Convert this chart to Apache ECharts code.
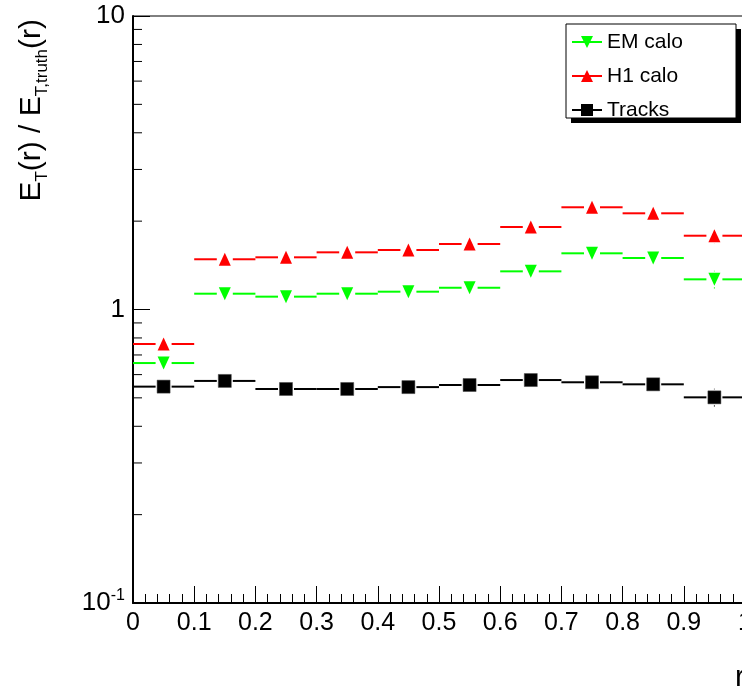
<!DOCTYPE html>
<html>
<head>
<meta charset="utf-8">
<script src="https://cdn.jsdelivr.net/npm/echarts@6/dist/echarts.min.js"></script>
<style>
  html, body { margin: 0; padding: 0; background: #fff; }
  #chart { width: 742px; height: 691px; }
</style>
</head>
<body>
<div id="chart"></div>
<script>
// Bins in r (centres), each 0.1 wide
const rCenters = [0.05, 0.15, 0.25, 0.35, 0.45, 0.55, 0.65, 0.75, 0.85, 0.95];
const binWidth = 0.1;

// E_T(r) / E_T,truth(r) per bin
const emCalo    = [0.657, 1.132, 1.106, 1.132, 1.150, 1.186, 1.349, 1.554, 1.498, 1.267];
const emCaloErr = [0.010, 0.010, 0.010, 0.010, 0.010, 0.012, 0.015, 0.020, 0.025, 0.088];
const h1Calo    = [0.763, 1.483, 1.506, 1.566, 1.595, 1.672, 1.910, 2.230, 2.127, 1.784];
const h1CaloErr = [0.012, 0.012, 0.012, 0.012, 0.012, 0.015, 0.020, 0.025, 0.030, 0.110];
const tracks    = [0.546, 0.571, 0.536, 0.536, 0.544, 0.553, 0.575, 0.565, 0.556, 0.502];
const tracksErr = [0.005, 0.005, 0.005, 0.005, 0.005, 0.005, 0.006, 0.006, 0.008, 0.035];

// Axis ticks
const yTickValues = [0.1, 1, 10];
const yTickText = ['{b|10}{s|-1}', '1', '10'];
const yMinorTicks = [0.2, 0.3, 0.4, 0.5, 0.6, 0.7, 0.8, 0.9, 2, 3, 4, 5, 6, 7, 8, 9];

const FONT = '"Liberation Sans", Arial, Helvetica, sans-serif';
const GREEN = '#00ff00', RED = '#ff0000', BLACK = '#000000';

function markerShape(kind, cx, cy, color) {
  if (kind === 'square') {
    return { type: 'rect', shape: { x: cx - 6.5, y: cy - 6.5, width: 13, height: 13 },
             style: { fill: color, stroke: '#444', lineWidth: 0.5 } };
  }
  const pts = kind === 'up'
    ? [[cx - 6, cy + 6.5], [cx + 6, cy + 6.5], [cx, cy - 6.5]]
    : [[cx - 6, cy - 6.5], [cx + 6, cy - 6.5], [cx, cy + 6.5]];
  return { type: 'polygon', shape: { points: pts }, style: { fill: color } };
}

// One histogram-style series: horizontal bin bar, vertical error bar, marker
function binSeries(name, values, errs, color, kind) {
  return {
    name: name,
    type: 'custom',
    itemStyle: { color: color },
    data: rCenters.map((r, i) => [r, values[i], errs[i]]),
    encode: { x: 0, y: 1 },
    z: 3,
    renderItem: function (params, api) {
      const r = api.value(0), v = api.value(1), e = api.value(2);
      const c = api.coord([r, v]);
      const x0 = api.coord([r - binWidth / 2, v])[0];
      const x1 = api.coord([r + binWidth / 2, v])[0];
      const yTop = api.coord([r, v + e])[1];
      const yBot = api.coord([r, v - e])[1];
      const gap = 8;
      const stroke = { stroke: color, lineWidth: 2 };
      const children = [
        { type: 'line', shape: { x1: x0, y1: c[1], x2: c[0] - gap, y2: c[1] }, style: stroke },
        { type: 'line', shape: { x1: c[0] + gap, y1: c[1], x2: x1, y2: c[1] }, style: stroke }
      ];
      if (c[1] - yTop > gap) {
        children.push({ type: 'line', shape: { x1: c[0], y1: c[1] - gap, x2: c[0], y2: yTop },
                        style: { stroke: color, lineWidth: 1 } });
      }
      if (yBot - c[1] > gap) {
        children.push({ type: 'line', shape: { x1: c[0], y1: c[1] + gap, x2: c[0], y2: yBot },
                        style: { stroke: color, lineWidth: 1 } });
      }
      children.push(markerShape(kind, c[0], c[1], color));
      return { type: 'group', children: children };
    }
  };
}

const chart = echarts.init(document.getElementById('chart'), null, { renderer: 'canvas' });

chart.setOption({
  animation: false,
  backgroundColor: '#ffffff',
  grid: {
    left: 133, top: 16, width: 612, height: 587,
    outerBoundsMode: 'none', containLabel: false,
    show: true, borderColor: '#000', borderWidth: 1, backgroundColor: 'transparent'
  },
  xAxis: {
    type: 'value', min: 0, max: 1, interval: 0.1,
    axisLine: { show: true, onZero: false, lineStyle: { color: '#000', width: 2 } },
    axisTick: { show: true, inside: true, length: 17, lineStyle: { color: '#000', width: 1 } },
    minorTick: { show: true, splitNumber: 5, length: 9, lineStyle: { color: '#000', width: 1 } },
    splitLine: { show: false },
    axisLabel: {
      fontSize: 25, color: '#000', fontFamily: FONT, margin: 8,
      formatter: v => String(Math.round(v * 10) / 10)
    }
  },
  yAxis: {
    type: 'log', logBase: 10, min: 0.1, max: 10,
    axisLine: { show: true, lineStyle: { color: '#000', width: 2 } },
    axisTick: { show: true, inside: true, length: 17, lineStyle: { color: '#000', width: 1 } },
    minorTick: { show: false },
    splitLine: { show: false },
    axisLabel: {
      fontSize: 26, color: '#000', fontFamily: FONT, margin: 8,
      formatter: function (v) {
        for (let i = 0; i < yTickValues.length; i++) {
          if (Math.abs(v - yTickValues[i]) < 1e-6 * yTickValues[i]) return yTickText[i];
        }
        return '';
      },
      rich: {
        b: { fontSize: 26, fontFamily: FONT, color: '#000', lineHeight: 30 },
        s: { fontSize: 16, fontFamily: FONT, color: '#000', verticalAlign: 'top', lineHeight: 16 }
      }
    }
  },
  legend: {
    orient: 'vertical', left: 572, top: 31, padding: 0,
    itemWidth: 30, itemHeight: 13, itemGap: 12, itemTextGap: 6,
    textStyle: { fontSize: 21, color: '#000', fontFamily: FONT, lineHeight: 22 },
    z: 10,
    data: [
      { name: 'EM calo', icon: 'path://M0,6L30,6L30,8L0,8Z M9,1L21,1L15,13Z' },
      { name: 'H1 calo', icon: 'path://M0,6L30,6L30,8L0,8Z M15,1L21,13L9,13Z' },
      { name: 'Tracks',  icon: 'path://M0,6L30,6L30,8L0,8Z M9,1L21,1L21,13L9,13Z' }
    ],
    selectedMode: false
  },
  graphic: [
    // legend box with drop shadow
    { type: 'rect', z: 5, shape: { x: 571, y: 29, width: 170, height: 94 }, style: { fill: '#000' } },
    { type: 'rect', z: 6, shape: { x: 566, y: 24, width: 170, height: 94 },
      style: { fill: '#fff', stroke: '#000', lineWidth: 1 } },
    // y-axis title
    { type: 'text', z: 6, x: 32, y: 19, rotation: Math.PI / 2,
      style: {
        text: '{m|E}{s|T}{m|(r) / E}{s|T,truth}{m|(r)}',
        align: 'right', verticalAlign: 'middle', fill: '#000',
        rich: {
          m: { fontSize: 30, fontFamily: FONT, fill: '#000', lineHeight: 38, verticalAlign: 'middle' },
          s: { fontSize: 17, fontFamily: FONT, fill: '#000', lineHeight: 7, verticalAlign: 'bottom' }
        }
      }
    },
    // x-axis title
    { type: 'text', z: 6, x: 745, y: 678,
      style: { text: 'r', fontSize: 30, fontFamily: FONT, fill: '#000', align: 'right', verticalAlign: 'middle' } }
  ],
  series: [
    binSeries('EM calo', emCalo, emCaloErr, GREEN, 'down'),
    binSeries('H1 calo', h1Calo, h1CaloErr, RED, 'up'),
    binSeries('Tracks', tracks, tracksErr, BLACK, 'square'),
    {
      // minor ticks of the logarithmic y axis (2..9 in each decade)
      name: 'yMinor', type: 'custom', silent: true, z: 2,
      data: yMinorTicks.map(v => [0, v]),
      encode: { x: 0, y: 1 },
      renderItem: function (params, api) {
        const p = api.coord([0, api.value(1)]);
        return { type: 'line', shape: { x1: p[0], y1: p[1], x2: p[0] + 9, y2: p[1] },
                 style: { stroke: '#000', lineWidth: 1 } };
      }
    }
  ]
});
</script>
</body>
</html>
